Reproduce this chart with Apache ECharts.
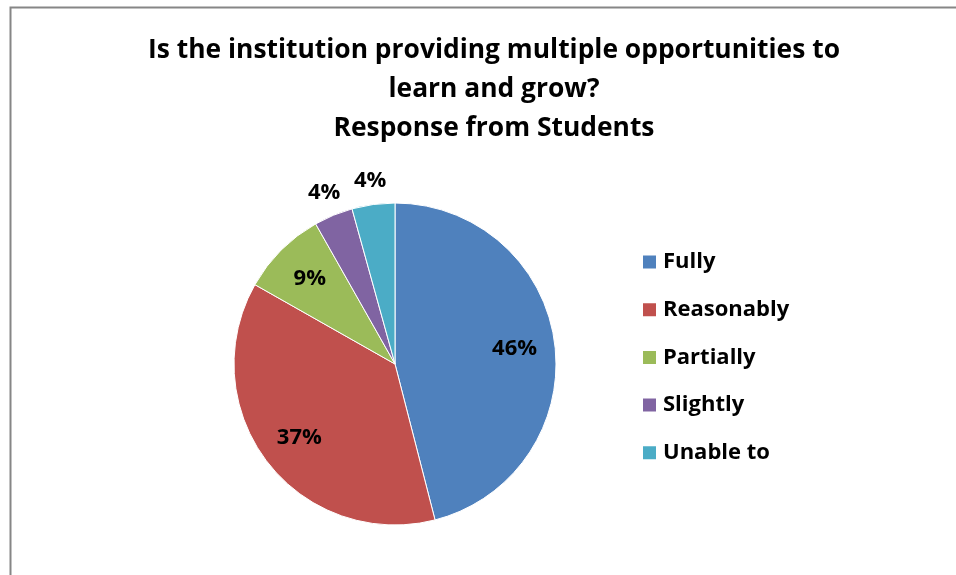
<!DOCTYPE html>
<html>
<head>
<meta charset="utf-8">
<script src="https://cdn.jsdelivr.net/npm/echarts@6/dist/echarts.min.js"></script>
<style>
html,body{margin:0;padding:0;background:#fff;}
#c{width:956px;height:575px;}
</style>
</head>
<body>
<div id="c"></div>
<script>
const categories = ['Fully', 'Reasonably', 'Partially', 'Slightly', 'Unable to'];
const values = [46.0, 37.2, 8.6, 3.9, 4.3];
const colors = ['#4F81BD', '#C0504D', '#9BBB59', '#8064A2', '#4BACC6'];
const insideLabelIdx = [0, 1, 2];
const titleText = 'Is the institution providing multiple opportunities to\nlearn and grow?\nResponse from Students';

const FONT = '"Open Sans", Lato, sans-serif';
const chart = echarts.init(document.getElementById('c'));
const center = [395, 364];
const R = 161;
const total = values.reduce((a, b) => a + b, 0);
const pct = v => Math.round(v / total * 100) + '%';

const baseData = categories.map((n, i) => ({ name: n, value: values[i], itemStyle: { color: colors[i] } }));
const labelData = (show) => categories.map((n, i) => ({
  name: n, value: values[i],
  label: { show: show(i) },
  itemStyle: { color: 'rgba(0,0,0,0)' }
}));
const labelStyle = {
  position: 'inside',
  formatter: p => pct(p.value),
  color: '#000',
  fontSize: 22,
  fontWeight: 'bold',
  fontFamily: FONT
};

chart.setOption({
  animation: false,
  color: colors,
  title: {
    text: titleText,
    left: 489,
    top: 26,
    textAlign: 'center',
    textStyle: { fontSize: 26.4, fontWeight: 'bold', lineHeight: 39, color: '#000', fontFamily: FONT }
  },
  legend: {
    orient: 'vertical',
    left: 641,
    top: 251,
    padding: 0,
    itemWidth: 15,
    itemHeight: 15,
    itemGap: 25.7,
    icon: 'rect',
    data: categories,
    textStyle: { fontSize: 22, fontWeight: 'bold', lineHeight: 20, color: '#000', fontFamily: FONT, padding: [0, 0, 0, 1] }
  },
  graphic: [{
    type: 'rect',
    left: 8, top: 5,
    shape: { width: 1000, height: 620 },
    style: { fill: 'none', stroke: '#868686', lineWidth: 2 },
    silent: true
  }],
  series: [
    {
      type: 'pie',
      center: center,
      radius: [0, R],
      startAngle: 90,
      clockwise: true,
      label: { show: false },
      labelLine: { show: false },
      itemStyle: { borderColor: '#fff', borderWidth: 1 },
      data: baseData
    },
    {
      type: 'pie',
      silent: true,
      legendHoverLink: false,
      center: center,
      radius: [R * 0.46, R],
      startAngle: 90,
      clockwise: true,
      label: labelStyle,
      labelLine: { show: false },
      data: labelData(i => insideLabelIdx.includes(i))
    },
    {
      type: 'pie',
      silent: true,
      legendHoverLink: false,
      center: center,
      radius: [R, R * 1.26],
      startAngle: 90,
      clockwise: true,
      label: labelStyle,
      labelLine: { show: false },
      data: labelData(i => !insideLabelIdx.includes(i))
    }
  ]
});
</script>
</body>
</html>
